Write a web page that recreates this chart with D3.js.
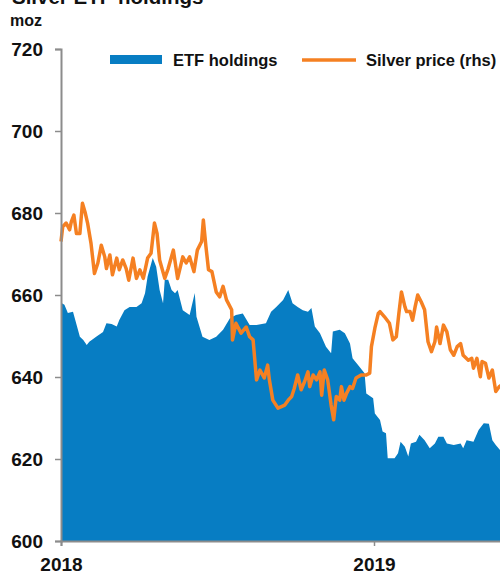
<!DOCTYPE html>
<html>
<head>
<meta charset="utf-8">
<script src="https://cdn.jsdelivr.net/npm/d3@7"></script>
<style>
  body { margin: 0; background: #fff; }
  svg { display: block; font-family: "Liberation Sans", Arial, sans-serif; font-weight: bold; }
</style>
</head>
<body>
<div id="chart"></div>
<script>
// ETF holdings (moz), left axis
const etfDates = [
    "2018-01-01", "2018-01-05", "2018-01-09", "2018-01-15", "2018-01-17", "2018-01-23", "2018-01-27", "2018-01-31",
    "2018-02-03", "2018-02-11", "2018-02-19", "2018-02-23", "2018-03-01", "2018-03-07", "2018-03-10", "2018-03-16",
    "2018-03-22", "2018-03-30", "2018-04-05", "2018-04-09", "2018-04-12", "2018-04-18", "2018-04-22", "2018-04-26",
    "2018-04-30", "2018-05-02", "2018-05-06", "2018-05-10", "2018-05-14", "2018-05-17", "2018-05-23", "2018-05-31",
    "2018-06-06", "2018-06-08", "2018-06-15", "2018-06-23", "2018-07-01", "2018-07-09", "2018-07-17", "2018-07-24",
    "2018-08-01", "2018-08-09", "2018-08-17", "2018-08-28", "2018-09-03", "2018-09-09", "2018-09-17", "2018-09-23",
    "2018-09-28", "2018-10-04", "2018-10-10", "2018-10-16", "2018-10-20", "2018-10-24", "2018-10-30", "2018-11-06",
    "2018-11-12", "2018-11-14", "2018-11-22", "2018-11-28", "2018-12-04", "2018-12-07", "2018-12-15", "2018-12-21",
    "2018-12-23", "2018-12-31", "2019-01-02", "2019-01-08", "2019-01-11", "2019-01-15", "2019-01-17", "2019-01-25",
    "2019-01-29", "2019-02-01", "2019-02-06", "2019-02-10", "2019-02-13", "2019-02-19", "2019-02-23", "2019-03-01",
    "2019-03-07", "2019-03-13", "2019-03-17", "2019-03-23", "2019-03-27", "2019-04-04", "2019-04-12", "2019-04-15",
    "2019-04-19", "2019-04-27", "2019-05-03", "2019-05-09", "2019-05-15", "2019-05-19", "2019-05-23", "2019-05-28",
    "2019-05-31"
];
const etfHoldings = [
    658.1, 657.6, 655.6, 655.9, 654.4, 649.8, 649.0, 647.8,
    648.6, 649.8, 651.0, 653.1, 652.9, 652.3, 653.9, 656.3,
    657.1, 657.1, 658.0, 660.4, 664.5, 669.0, 666.9, 661.2,
    658.0, 663.7, 663.7, 661.2, 660.4, 661.2, 656.3, 655.1,
    660.5, 654.7, 649.8, 649.0, 649.8, 651.5, 654.3, 655.1,
    655.5, 652.7, 652.7, 653.1, 655.9, 657.1, 658.8, 661.2,
    658.0, 657.1, 656.3, 655.9, 656.8, 652.3, 650.7, 647.4,
    645.8, 651.1, 651.5, 650.7, 648.2, 644.6, 642.5, 640.9,
    636.0, 634.8, 631.1, 629.5, 626.7, 626.3, 620.2, 620.2,
    621.4, 624.2, 623.0, 620.6, 623.8, 624.2, 625.9, 624.6,
    622.6, 623.8, 625.4, 625.4, 623.8, 623.4, 623.8, 622.6,
    624.6, 624.2, 627.1, 628.7, 628.6, 624.6, 623.4, 622.2,
    622.4
];

// Silver price (US$/oz), right axis (off-canvas)
const priceDates = [
    "2018-01-01", "2018-01-03", "2018-01-07", "2018-01-11", "2018-01-13", "2018-01-16", "2018-01-19", "2018-01-23",
    "2018-01-26", "2018-01-29", "2018-02-01", "2018-02-05", "2018-02-09", "2018-02-13", "2018-02-17", "2018-02-21",
    "2018-02-23", "2018-02-27", "2018-03-02", "2018-03-07", "2018-03-10", "2018-03-14", "2018-03-18", "2018-03-21",
    "2018-03-26", "2018-03-30", "2018-04-03", "2018-04-07", "2018-04-12", "2018-04-16", "2018-04-20", "2018-04-23",
    "2018-04-26", "2018-05-02", "2018-05-06", "2018-05-12", "2018-05-17", "2018-05-23", "2018-05-27", "2018-05-31",
    "2018-06-05", "2018-06-09", "2018-06-14", "2018-06-16", "2018-06-19", "2018-06-22", "2018-06-26", "2018-07-01",
    "2018-07-05", "2018-07-09", "2018-07-13", "2018-07-19", "2018-07-20", "2018-07-24", "2018-07-30", "2018-08-05",
    "2018-08-09", "2018-08-13", "2018-08-17", "2018-08-21", "2018-08-26", "2018-08-30", "2018-09-01", "2018-09-05",
    "2018-09-11", "2018-09-19", "2018-09-23", "2018-09-27", "2018-09-30", "2018-10-04", "2018-10-08", "2018-10-12",
    "2018-10-16", "2018-10-18", "2018-10-22", "2018-10-26", "2018-10-30", "2018-11-01", "2018-11-04", "2018-11-08",
    "2018-11-12", "2018-11-15", "2018-11-18", "2018-11-22", "2018-11-24", "2018-11-27", "2018-11-30", "2018-12-04",
    "2018-12-07", "2018-12-11", "2018-12-17", "2018-12-23", "2018-12-27", "2018-12-29", "2019-01-02", "2019-01-06",
    "2019-01-08", "2019-01-13", "2019-01-19", "2019-01-23", "2019-01-27", "2019-01-30", "2019-02-02", "2019-02-06",
    "2019-02-08", "2019-02-12", "2019-02-15", "2019-02-18", "2019-02-21", "2019-02-25", "2019-03-01", "2019-03-05",
    "2019-03-09", "2019-03-13", "2019-03-15", "2019-03-19", "2019-03-23", "2019-03-27", "2019-03-31", "2019-04-04",
    "2019-04-08", "2019-04-12", "2019-04-15", "2019-04-21", "2019-04-25", "2019-04-27", "2019-05-01", "2019-05-05",
    "2019-05-07", "2019-05-11", "2019-05-15", "2019-05-19", "2019-05-23", "2019-05-27", "2019-05-31"
];
const silverPrice = [
    16.87, 17.11, 17.17, 17.06, 17.19, 17.30, 17.00, 17.00,
    17.49, 17.35, 17.17, 16.84, 16.35, 16.52, 16.81, 16.62,
    16.43, 16.65, 16.33, 16.60, 16.41, 16.57, 16.43, 16.24,
    16.60, 16.27, 16.41, 16.27, 16.60, 16.68, 17.17, 17.00,
    16.57, 16.27, 16.43, 16.73, 16.27, 16.62, 16.52, 16.62,
    16.38, 16.73, 16.87, 17.22, 16.79, 16.41, 16.38, 16.05,
    15.97, 16.14, 15.92, 15.76, 15.27, 15.54, 15.38, 15.48,
    15.32, 15.27, 14.62, 14.78, 14.65, 14.86, 14.62, 14.29,
    14.16, 14.21, 14.29, 14.35, 14.48, 14.70, 14.46, 14.59,
    14.75, 14.51, 14.70, 14.62, 14.75, 14.37, 14.78, 14.62,
    14.21, 13.97, 14.35, 14.29, 14.51, 14.29, 14.40, 14.51,
    14.48, 14.65, 14.70, 14.70, 14.73, 15.16, 15.46, 15.70,
    15.73, 15.65, 15.54, 15.27, 15.32, 15.70, 16.05, 15.81,
    15.73, 15.73, 15.59, 15.81, 16.00, 15.89, 15.76, 15.24,
    15.08, 15.24, 15.48, 15.21, 15.51, 15.40, 15.11, 15.02,
    15.16, 15.21, 15.02, 14.94, 14.97, 14.81, 14.97, 14.67,
    14.92, 14.89, 14.65, 14.78, 14.43, 14.51, 14.55
];

const yTicks = [600, 620, 640, 660, 680, 700, 720];
const xTicks = ["2018-01-01", "2019-01-01"];
const seriesNames = ["ETF holdings", "Silver price (rhs)"];

const parse = d3.timeParse("%Y-%m-%d");
const etf = etfDates.map((d, i) => ({ date: parse(d), value: etfHoldings[i] }));
const price = priceDates.map((d, i) => ({ date: parse(d), value: silverPrice[i] }));

const blue = "#077dc3", orange = "#f58022", axisGrey = "#8c8c8c";

const W = 500, H = 575;
const plotLeft = 61, plotTop = 49, plotBottom = 541;

const svg = d3.select("#chart").append("svg")
    .attr("width", W)
    .attr("height", H);

// Scales: plot runs past the right edge of the picture
const x = d3.scaleTime()
    .domain([parse("2018-01-01"), parse("2019-06-01")])
    .range([plotLeft, plotLeft + 516 * 313 / 365]);
const y = d3.scaleLinear().domain([600, 720]).range([plotBottom, plotTop]);
const yR = d3.scaleLinear().domain([12, 20]).range([plotBottom, plotTop]);

// Area
svg.append("path")
    .datum(etf)
    .attr("fill", blue)
    .attr("d", d3.area()
        .x(d => x(d.date))
        .y0(y(600))
        .y1(d => y(d.value)));

// Price line
svg.append("path")
    .datum(price)
    .attr("fill", "none")
    .attr("stroke", orange)
    .attr("stroke-width", 3.5)
    .attr("stroke-linejoin", "round")
    .attr("d", d3.line()
        .x(d => x(d.date))
        .y(d => yR(d.value)));

// Left axis
const yAxis = svg.append("g")
    .attr("transform", `translate(${plotLeft},0)`)
    .call(d3.axisLeft(y).tickValues(yTicks).tickSize(6).tickPadding(12));
yAxis.select(".domain").attr("stroke", axisGrey).attr("stroke-width", 2);
yAxis.selectAll(".tick line").attr("stroke", axisGrey).attr("stroke-width", 1.5);
yAxis.selectAll(".tick text")
    .attr("fill", "#111")
    .style("font-size", "19px")
    .style("font-weight", "bold");

// Bottom axis
const xAxis = svg.append("g")
    .attr("transform", `translate(0,${plotBottom})`)
    .call(d3.axisBottom(x).tickValues(xTicks.map(parse)).tickFormat(d3.timeFormat("%Y")).tickSize(5).tickPadding(12));
xAxis.select(".domain").attr("stroke", axisGrey).attr("stroke-width", 2);
xAxis.selectAll(".tick line").attr("stroke", axisGrey).attr("stroke-width", 1.5);
xAxis.selectAll(".tick text")
    .attr("fill", "#111")
    .style("font-size", "19px")
    .style("font-weight", "bold");

// Title and unit
svg.append("text")
    .attr("x", 12)
    .attr("y", 4)
    .attr("fill", "#111")
    .style("font-size", "20.5px")
    .text("Silver ETF holdings");

svg.append("text")
    .attr("x", 10)
    .attr("y", 26)
    .attr("fill", "#111")
    .style("font-size", "16px")
    .text("moz");

// Legend
const legend = svg.append("g");
legend.append("rect")
    .attr("x", 110).attr("y", 55)
    .attr("width", 52).attr("height", 9)
    .attr("fill", blue);
legend.append("text")
    .attr("x", 173).attr("y", 66)
    .attr("fill", "#111")
    .style("font-size", "16.5px")
    .text(seriesNames[0]);
legend.append("line")
    .attr("x1", 302).attr("x2", 356)
    .attr("y1", 60).attr("y2", 60)
    .attr("stroke", orange)
    .attr("stroke-width", 3.5);
legend.append("text")
    .attr("x", 366).attr("y", 66)
    .attr("fill", "#111")
    .style("font-size", "16.5px")
    .text(seriesNames[1]);
</script>
</body>
</html>
